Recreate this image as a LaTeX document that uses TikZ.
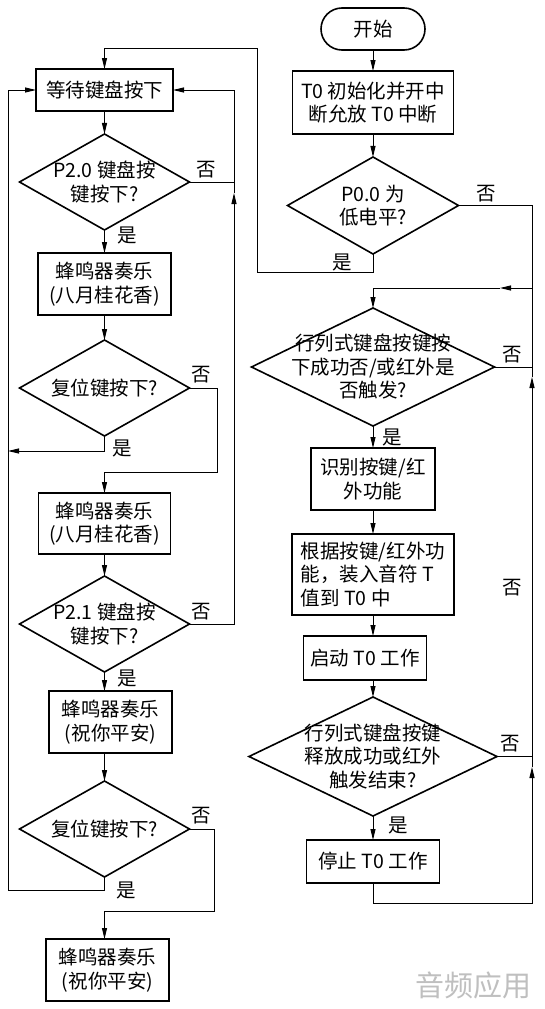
\documentclass[tikz,border=0pt]{standalone}
\usepackage{fontspec}
\setmainfont{Noto Sans CJK SC}
\usetikzlibrary{arrows.meta,positioning,shapes.geometric,shapes.misc}
\tikzset{
  >={Triangle[length=11pt,width=5pt]},
  line/.style      = {->, line width=0.9pt},
  block/.style     = {rectangle, draw, line width=1.6pt, align=center, inner sep=2pt, outer sep=0pt, fill=white},
  decision/.style  = {diamond, draw, line width=1.6pt, align=center, inner sep=-30pt, outer sep=0pt, fill=white},
  startstop/.style = {rounded rectangle, draw, line width=1.6pt, inner sep=2pt, outer sep=0pt, fill=white},
  tag/.style       = {inner sep=0pt},
  note/.style      = {inner sep=0pt, text=gray!50, font=\fontsize{29pt}{32pt}\selectfont}
}
\begin{document}
\begin{tikzpicture}[font=\fontsize{19.5pt}{23.5pt}\selectfont]
\useasboundingbox[fill=white] (0,0) rectangle (544pt,-1009pt);

% Right column
\node[startstop, minimum width=108pt, minimum height=42pt] (start) at (373pt,-29pt) {开始};
\node[block, minimum width=161pt, minimum height=63pt] (init) [below=21pt of start] {T0 初始化并开中\\断允放 T0 中断};
\node[decision, minimum width=171pt, minimum height=97pt] (p0) [below=23pt of init] {P0.0 为\\低电平?};
\node[decision, minimum width=243pt, minimum height=118pt] (k1) [below=54pt of p0] {行列式键盘按键按\\下成功否/或红外是\\否触发?};
\node[block, minimum width=124pt, minimum height=62pt] (id) [below=22pt of k1] {识别按键/红\\外功能};
\node[block, align=left, minimum width=162pt, minimum height=81pt] (ld) [below=24pt of id] {根据按键/红外功\\能，装入音符 T\\值到 T0 中};
\node[block, minimum width=123pt, minimum height=44pt] (st) [below=21pt of ld, xshift=-8pt] {启动 T0 工作};
\node[decision, minimum width=248pt, minimum height=119pt] (k2) [below=17pt of st, xshift=8pt] {行列式键盘按键\\释放成功或红外\\触发结束?};
\node[block, minimum width=133pt, minimum height=43pt] (sp) [below=24pt of k2] {停止 T0 工作};

% Left column
\node[block, minimum width=137pt, minimum height=42pt] (wait) at (104.5pt,-90pt) {等待键盘按下};
\node[decision, minimum width=170pt, minimum height=96pt] (d1) [below=23pt of wait] {P2.0 键盘按\\键按下?};
\node[block, minimum width=133pt, minimum height=62pt] (m1) [below=23pt of d1] {蜂鸣器奏乐\\(八月桂花香)};
\node[decision, minimum width=170pt, minimum height=96pt] (r1) [below=25pt of m1] {复位键按下?};
\node[block, minimum width=132pt, minimum height=61pt] (m2) [below=57pt of r1] {蜂鸣器奏乐\\(八月桂花香)};
\node[decision, minimum width=170pt, minimum height=96pt] (d2) [below=22pt of m2] {P2.1 键盘按\\键按下?};
\node[block, minimum width=123pt, minimum height=62pt] (m3) [below=19pt of d2, xshift=6pt] {蜂鸣器奏乐\\(祝你平安)};
\node[decision, minimum width=170pt, minimum height=96pt] (r2) [below=28pt of m3, xshift=-6pt] {复位键按下?};
\node[block, minimum width=123pt, minimum height=62pt] (m4) [below=62pt of r2, xshift=3pt] {蜂鸣器奏乐\\(祝你平安)};

% Bends
\coordinate (la) at (8pt,-451pt);
\coordinate (lb) at (8pt,-890pt);
\coordinate (ra) at (234pt,-193pt);
\coordinate (rb) at (217pt,-472pt);
\coordinate (rc) at (214pt,-911pt);
\coordinate (ta) at (257pt,-272pt);
\coordinate (tb) at (257pt,-48pt);
\coordinate (c1) at (532pt,-903pt);
\coordinate (c2) at (532pt,-767pt);
\coordinate (c3) at (532pt,-377pt);
\coordinate (c4) at (500pt,-288pt);
\coordinate (c5) at (532pt,-288pt);

% Yes / no labels
\node[tag] (n1) at ([xshift=17pt,yshift=12pt]d1.east) {否};
\node[tag] (y1) at ([xshift=23pt,yshift=-5pt]d1.south) {是};
\node[tag] (n2) at ([xshift=12pt,yshift=13pt]r1.east) {否};
\node[tag] (y2) at ([xshift=18pt,yshift=-12pt]r1.south) {是};
\node[tag] (n3) at ([xshift=12pt,yshift=12pt]d2.east) {否};
\node[tag] (y3) at ([xshift=23pt,yshift=-6pt]d2.south) {是};
\node[tag] (n4) at ([xshift=12pt,yshift=13pt]r2.east) {否};
\node[tag] (y4) at ([xshift=22pt,yshift=-13pt]r2.south) {是};
\node[tag] (n5) at ([xshift=28pt,yshift=12pt]p0.east) {否};
\node[tag] (y5) at ([xshift=-31pt,yshift=-8pt]p0.south) {是};
\node[tag] (n6) at ([xshift=18pt,yshift=12pt]k1.east) {否};
\node[tag] (y6) at ([xshift=19pt,yshift=-11pt]k1.south) {是};
\node[tag] (n7) at (512pt,-588pt) {否};
\node[tag] (n8) at ([xshift=13pt,yshift=13pt]k2.east) {否};
\node[tag] (y8) at ([xshift=25pt,yshift=-9pt]k2.south) {是};

\node[note] (wm) at (473pt,-985pt) {音频应用};

% Connections
\draw[line] (start) -- (init);
\draw[line] (init) -- (p0);
\draw[line] (k1) -- (id);
\draw[line] (id) -- (ld);
\draw[line] (ld) -- (ld |- st.north);
\draw[line] (st.south -| k2) -- (k2);
\draw[line] (k2) -- (sp);
\draw[line] (wait) -- (d1);
\draw[line] (d1) -- (m1);
\draw[line] (m1) -- (r1);
\draw[line] (m2.south -| d2) -- (d2);
\draw[line] (d2) -- (d2 |- m3.north);
\draw[line] (m3.south -| r2) -- (r2);

\draw[line] (p0.south) |- (ta) -- (tb) -| (wait.north);
\draw (p0.east) -| (c5);
\draw[line] (sp.south) |- (c1) -- (c2);
\draw[line] (c2) -- (c3);
\draw (k2.east) -- (k2.east -| c2);
\draw (k1.east) -- (k1.east -| c3);
\draw[line] (c3) |- (c4);
\draw[line] (c4) -| (k1.north);

\draw[line] (r1.south) |- (la);
\draw[line] (r2.south) |- (lb) |- (wait.west);
\draw (d1.east) -- (d1.east -| ra);
\draw[line] (d2.east) -| (ra);
\draw[line] (ra) |- (wait.east);
\draw[line] (r1.east) -| (rb) -| (m2.north -| r1);
\draw[line] (r2.east) -| (rc) -| (m4.north -| r2);

\end{tikzpicture}
\end{document}
